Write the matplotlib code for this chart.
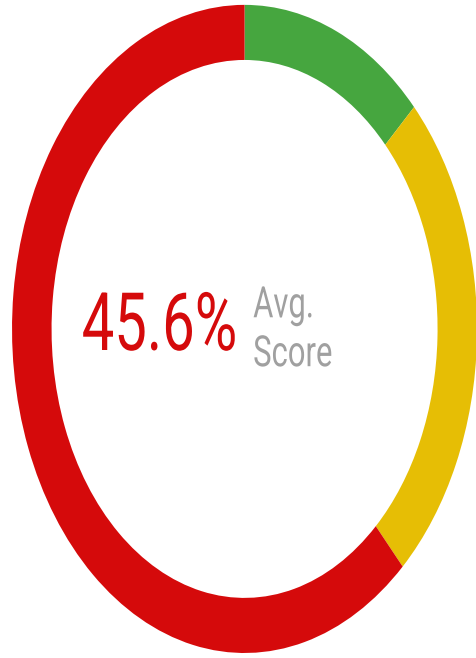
import matplotlib.pyplot as plt
from matplotlib import patheffects
from matplotlib.transforms import Affine2D

# segment shares (green / yellow / red) and the centre label
labels = ['Good', 'Average', 'Poor']
shares = [13.0, 25.1, 61.9]
colors = ['#46A63F', '#E6BE05', '#D50A0B']
avg_score = 45.6

# the original image is stretched vertically, text too -> squeeze glyphs sideways
X_SQUEEZE = 0.72


class HSqueeze(patheffects.AbstractPathEffect):
    def __init__(self, sx, anchor):
        super().__init__()
        self.sx = sx
        self.anchor = anchor  # callable giving anchor x in display coords

    def draw_path(self, renderer, gc, tpath, affine, rgbFace=None):
        x0 = self.anchor()
        t = affine + Affine2D().translate(-x0, 0).scale(self.sx, 1).translate(x0, 0)
        renderer.draw_path(gc, tpath, t, rgbFace)


fig = plt.figure(figsize=(4.77, 6.58), dpi=100)
ax = fig.add_axes([0.0252, 0.0076, 0.975, 0.985])

ax.pie(shares, colors=colors, startangle=90, counterclock=False,
       radius=1.0, wedgeprops=dict(width=0.17, linewidth=0))
ax.set_aspect('auto')
ax.set_xlim(-1, 1)
ax.set_ylim(-1, 1)
ax.axis('off')


def squeezed_text(x, y, s, **kw):
    txt = ax.text(x, y, s, va='baseline', family='Roboto', **kw)
    txt.set_path_effects([HSqueeze(X_SQUEEZE,
                                   lambda: ax.transData.transform((x, y))[0])])
    return txt


squeezed_text(-0.032, -0.065, f'{avg_score}%', ha='right',
              fontsize=58, color='#D50A0B')
squeezed_text(0.037, 0.036, 'Avg.', ha='left', fontsize=31, color='#A0A0A0')
squeezed_text(0.037, -0.115, 'Score', ha='left', fontsize=31, color='#A0A0A0')

fig.savefig('out.png', dpi=100)
